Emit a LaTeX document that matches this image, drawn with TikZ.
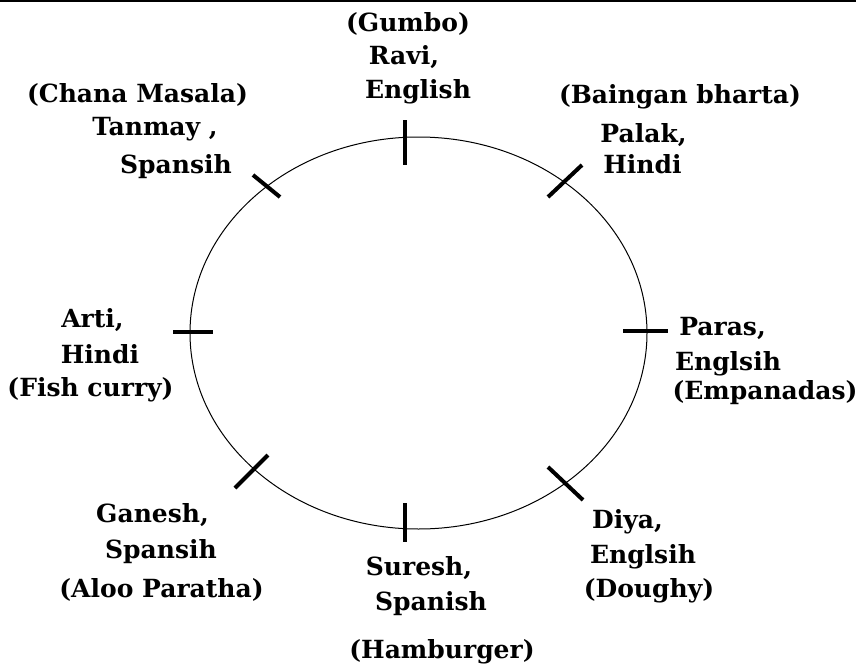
\documentclass[tikz,border=0pt]{standalone}
\usepackage{fontspec}
\setmainfont{DejaVu Serif}
\begin{document}
\begin{tikzpicture}[x=1pt,y=-1pt,
  lbl/.style={anchor=base,inner sep=0pt,font=\fontsize{25}{30}\selectfont\bfseries},
  tick/.style={line width=4pt},
  ring/.style={line width=1pt}]
\useasboundingbox (0,0) rectangle (856,669);
\draw[line width=2pt] (0,1) -- (856,1);
\draw[ring] (418.5,333) ellipse [x radius=228.5pt, y radius=196pt];
% ticks
\draw[tick] (405,120) -- (405,165);
\draw[tick] (405,503) -- (405,542);
\draw[tick] (173,332) -- (213,332);
\draw[tick] (623,331) -- (668,331);
\draw[tick] (253,175) -- (280,197);
\draw[tick] (548,197) -- (582,165);
\draw[tick] (548,467) -- (583,500);
\draw[tick] (235,488) -- (268,455);
% labels
\node[lbl] (t1) at (408,32) {(Gumbo)};
\node[lbl] (t2) at (404,65) {Ravi,};
\node[lbl] (t3) at (418,98) {English};
\node[lbl] (ul1) at (137.5,102) {(Chana Masala)};
\node[lbl] (ul2) at (155,135) {Tanmay ,};
\node[lbl] (ul3) at (176,173) {Spansih};
\node[lbl] (ur1) at (680,103) {(Baingan bharta)};
\node[lbl] (ur2) at (643.5,142) {Palak,};
\node[lbl] (ur3) at (642.5,173) {Hindi};
\node[lbl] (l1) at (92.5,327) {Arti,};
\node[lbl] (l2) at (100,363) {Hindi};
\node[lbl] (l3) at (90.5,396) {(Fish curry)};
\node[lbl] (r1) at (722.5,335) {Paras,};
\node[lbl] (r2) at (728,370) {Englsih};
\node[lbl] (r3) at (765,399) {(Empanadas)};
\node[lbl] (ll1) at (152.5,522) {Ganesh,};
\node[lbl] (ll2) at (161,558) {Spansih};
\node[lbl] (ll3) at (161.5,597) {(Aloo Paratha)};
\node[lbl] (b1) at (419,575) {Suresh,};
\node[lbl] (b2) at (431,610) {Spanish};
\node[lbl] (b3) at (442,658) {(Hamburger)};
\node[lbl] (lr1) at (627.5,528) {Diya,};
\node[lbl] (lr2) at (643,563) {Englsih};
\node[lbl] (lr3) at (649,597) {(Doughy)};
\end{tikzpicture}
\end{document}
